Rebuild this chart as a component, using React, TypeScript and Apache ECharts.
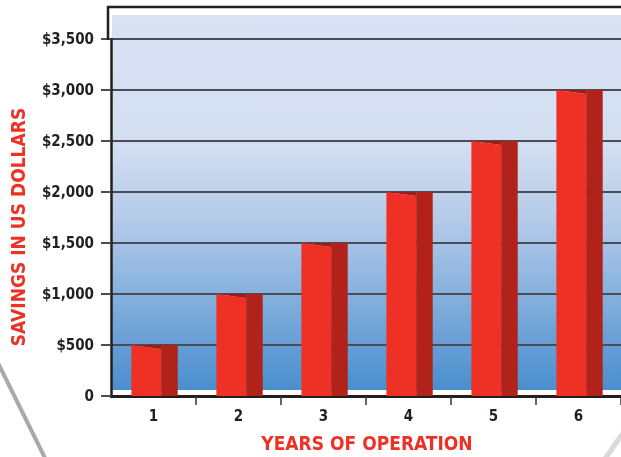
import React, { useEffect, useRef } from 'react';
import * as echarts from 'echarts';

const years = ['1', '2', '3', '4', '5', '6'];
const savings = [500, 1000, 1500, 2000, 2500, 3000];
const yTickLabels = ['0', '$500', '$1,000', '$1,500', '$2,000', '$2,500', '$3,000', '$3,500'];
const yInterval = 500;
const yMax = 3500;
const xTitle = 'YEARS OF OPERATION';
const yTitle = 'SAVINGS IN US DOLLARS';

const FONT = "'Liberation Sans Narrow', 'DejaVu Sans Condensed', 'Open Sans', sans-serif";
const RED = '#EE3124';
const INK = '#231F20';

export default function App() {
  const ref = useRef<HTMLDivElement>(null);
  useEffect(() => {
    document.body.style.margin = '0';
    if (!ref.current) return;
    const chart = echarts.init(ref.current, null, { renderer: 'svg' });
    const renderItem = (params: any, api: any) => {
      const top = api.coord([api.value(0), api.value(1)]);
      const bot = api.coord([api.value(0), 0]);
      const band = api.size([1, 0])[0];
      const cx = top[0];
      const fl = cx - band * 0.26;
      const fr = cx + band * 0.09;
      const sr = cx + band * 0.285;
      const slant = 4;
      return {
        type: 'group',
        children: [
          {
            type: 'polygon',
            shape: { points: [[fr, top[1]], [sr, top[1]], [sr, bot[1]], [fr, bot[1]]] },
            style: { fill: '#B1231A' },
          },
          {
            type: 'polygon',
            shape: { points: [[fl, top[1]], [fr, top[1]], [fr, top[1] + slant]] },
            style: { fill: '#9C1D16' },
          },
          {
            type: 'polygon',
            shape: { points: [[fl, top[1]], [fr, top[1] + slant], [fr, bot[1]], [fl, bot[1]]] },
            style: { fill: RED },
          },
        ],
      };
    };
    chart.setOption({
      animation: false,
      grid: { left: 108, width: 516, top: 39, height: 359 },
      xAxis: {
        type: 'category',
        data: years,
        name: xTitle,
        nameLocation: 'middle',
        nameGap: 37,
        nameTextStyle: { color: RED, fontFamily: FONT, fontWeight: 'bold', fontSize: 19, padding: [0, 0, 0, 2] },
        axisLine: { lineStyle: { color: INK, width: 3 } },
        axisTick: { show: true, length: 9, interval: (i: number) => i > 0, lineStyle: { color: '#333', width: 1.5 } },
        axisLabel: { margin: 12, color: INK, fontFamily: FONT, fontWeight: 'bold', fontSize: 15 },
        splitLine: { show: false },
      },
      yAxis: {
        type: 'value',
        min: 0,
        max: yMax,
        interval: yInterval,
        name: yTitle,
        nameLocation: 'middle',
        nameGap: 84,
        nameTextStyle: { color: RED, fontFamily: FONT, fontWeight: 'bold', fontSize: 19, padding: [0, 19, 0, 0] },
        axisLine: { show: true, lineStyle: { color: INK, width: 2.5 } },
        axisTick: { show: true, length: 10, lineStyle: { color: '#4b4d55', width: 2 } },
        axisLabel: {
          margin: 17,
          color: INK,
          fontFamily: FONT,
          fontWeight: 'bold',
          fontSize: 15,
          formatter: (v: number) => yTickLabels[Math.round(v / yInterval)] ?? '',
        },
        splitLine: { show: true, lineStyle: { color: '#4b4d55', width: 2 } },
      },
      graphic: [
        {
          type: 'rect',
          z: -10,
          shape: { x: 112, y: 15, width: 509, height: 375 },
          style: {
            fill: new echarts.graphic.LinearGradient(0, 0, 0, 1, [
              { offset: 0, color: '#D9E2F3' },
              { offset: 0.35, color: '#D3DEF1' },
              { offset: 0.55, color: '#B3CAE9' },
              { offset: 1, color: '#4A8ECE' },
            ]),
          },
        },
        {
          type: 'polyline',
          z: 10,
          shape: { points: [[108, 40], [108, 7], [621, 7]] },
          style: { stroke: INK, lineWidth: 2.5, fill: null },
        },
        {
          type: 'bezierCurve',
          shape: { x1: -2, y1: 363, cpx1: 14, cpy1: 395, cpx2: 30, cpy2: 428, x2: 46, y2: 460 },
          style: { stroke: '#9a9a9a', lineWidth: 4, fill: null, opacity: 0.85 },
        },
        {
          type: 'bezierCurve',
          shape: { x1: 604, y1: 460, cpx1: 610, cpy1: 452, cpx2: 616, cpy2: 443, x2: 623, y2: 433 },
          style: { stroke: '#d0d0d0', lineWidth: 5, fill: null, opacity: 0.8 },
        },
      ],
      series: [
        {
          type: 'custom',
          renderItem,
          encode: { x: 0, y: 1 },
          data: years.map((_, i) => [i, savings[i]]),
          z: 3,
          clip: false,
        },
      ],
    });
    return () => chart.dispose();
  }, []);
  return <div ref={ref} style={{ position: 'fixed', left: 0, top: 0, width: 621, height: 457 }} />;
}
